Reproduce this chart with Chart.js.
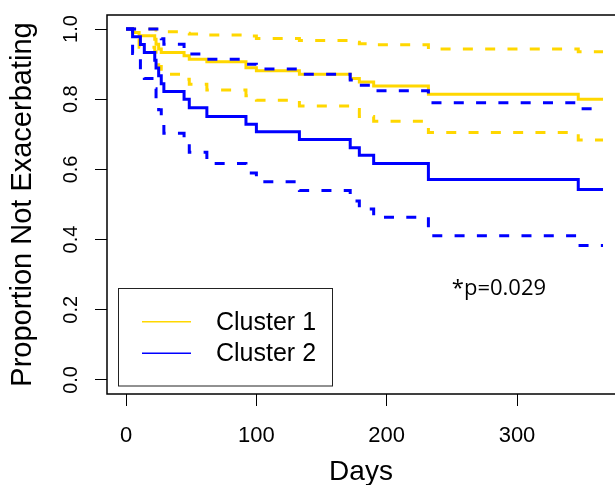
<!DOCTYPE html>
<html>
<head>
<meta charset="utf-8">
<script src="https://cdn.jsdelivr.net/npm/chart.js@4.4.0/dist/chart.umd.min.js"></script>
<style>
  html, body { margin: 0; padding: 0; background: #fff; overflow: hidden; }
  canvas { display: block; }
</style>
</head>
<body>
<canvas id="km" width="615" height="485"></canvas>
<script>
// Cluster 1 (gold) - KM estimate with confidence band
const cluster1Days  = [0, 5, 10, 22, 23, 25, 27, 44.5, 48.5, 62, 92, 100, 133, 172, 179, 190, 232, 347, 366]
const cluster1Surv  = [1, 0.99, 0.981, 0.971, 0.957, 0.943, 0.933, 0.924, 0.914, 0.907, 0.89, 0.881, 0.871, 0.859, 0.849, 0.838, 0.814, 0.80, 0.80]
const cluster1Upper = [1, 1, 1, 1, 0.997, 0.995, 0.992, 0.988, 0.986, 0.983, 0.98, 0.973, 0.967, 0.962, 0.958, 0.955, 0.943, 0.935, 0.935]
const cluster1Lower = [1, 0.972, 0.948, 0.935, 0.915, 0.893, 0.871, 0.857, 0.843, 0.826, 0.81, 0.797, 0.781, 0.771, 0.751, 0.737, 0.705, 0.684, 0.684]

// Cluster 2 (blue)
const cluster2Days  = [0, 5, 11, 14, 22, 23, 25, 27, 29, 44.5, 48.5, 62, 92, 100, 133, 172, 179, 190, 232, 347, 366]
const cluster2Surv  = [1, 0.978, 0.956, 0.933, 0.911, 0.889, 0.867, 0.844, 0.822, 0.80, 0.776, 0.751, 0.729, 0.707, 0.685, 0.662, 0.640, 0.617, 0.571, 0.543, 0.543]
const cluster2Upper = [1, 1, 1, 1, 1, 1, 0.985, 0.972, 0.957, 0.943, 0.929, 0.914, 0.90, 0.886, 0.871, 0.855, 0.84, 0.824, 0.79, 0.773, 0.773]
const cluster2Lower = [1, 0.93, 0.88, 0.859, 0.83, 0.80, 0.77, 0.735, 0.703, 0.675, 0.649, 0.617, 0.59, 0.565, 0.54, 0.51, 0.487, 0.464, 0.411, 0.383, 0.383]

const xTicks = [0, 100, 200, 300]
const yTicks = [0, 0.2, 0.4, 0.6, 0.8, 1.0]
const legendLabels = ['Cluster 1', 'Cluster 2']
const pValueText = '*p=0.029'
const pValuePos = { day: 250, value: 0.243 }

const GOLD = '#FFD700'
const BLUE = '#0000FF'
const FONT = "'Liberation Sans', Arial, sans-serif"

const toPoints = (days, vals) => days.map((d, i) => ({ x: d, y: vals[i] }))

const stepLine = (label, days, vals, color, dashed, order) => ({
    label: label,
    data: toPoints(days, vals),
    borderColor: color,
    backgroundColor: color,
    borderWidth: 3,
    borderDash: dashed ? [10, 12.3] : [],
    borderCapStyle: 'butt',
    borderJoinStyle: 'miter',
    stepped: 'before',
    pointRadius: 0,
    fill: false,
    order: order,
})

// box, legend and p-value text
const decorations = {
    id: 'decorations',
    afterDatasetsDraw(chart) {
        const { ctx, chartArea: a, scales } = chart
        ctx.save()
        ctx.strokeStyle = '#000'
        ctx.lineWidth = 1.5
        ctx.setLineDash([])
        ctx.strokeRect(a.left, a.top, a.right - a.left + 10, a.bottom - a.top)

        // legend
        ctx.lineWidth = 1
        ctx.strokeStyle = '#222'
        ctx.strokeRect(118.5, 288.5, 214, 97.5)
        const colors = [GOLD, BLUE]
        const rows = [321.7, 353.3]
        ctx.font = '25px ' + FONT
        ctx.textBaseline = 'middle'
        ctx.textAlign = 'left'
        legendLabels.forEach((lab, i) => {
            ctx.strokeStyle = colors[i]
            ctx.lineWidth = 1.5
            ctx.beginPath()
            ctx.moveTo(142, rows[i])
            ctx.lineTo(191, rows[i])
            ctx.stroke()
            ctx.fillStyle = '#000'
            ctx.fillText(lab, 216, rows[i] + 1)
        })

        // p value
        ctx.font = "22px 'Open Sans', sans-serif"
        ctx.textBaseline = 'alphabetic'
        ctx.fillStyle = '#000'
        ctx.fillText(pValueText, scales.x.getPixelForValue(pValuePos.day), scales.y.getPixelForValue(pValuePos.value))
        ctx.restore()
    },
}

const axisGrid = { drawOnChartArea: false, drawTicks: true, tickLength: 12, color: '#000', lineWidth: 1 }

new Chart(document.getElementById('km'), {
    type: 'line',
    data: {
        datasets: [
            stepLine('Cluster 2', cluster2Days, cluster2Surv, BLUE, false, 0),
            stepLine('Cluster 2 upper', cluster2Days, cluster2Upper, BLUE, true, 0),
            stepLine('Cluster 2 lower', cluster2Days, cluster2Lower, BLUE, true, 0),
            stepLine('Cluster 1', cluster1Days, cluster1Surv, GOLD, false, 1),
            stepLine('Cluster 1 upper', cluster1Days, cluster1Upper, GOLD, true, 1),
            stepLine('Cluster 1 lower', cluster1Days, cluster1Lower, GOLD, true, 1),
        ],
    },
    options: {
        responsive: false,
        animation: false,
        devicePixelRatio: 1,
        layout: { padding: { top: 15, left: 0, right: 0, bottom: 0 } },
        plugins: { legend: { display: false }, tooltip: { enabled: false } },
        scales: {
            x: {
                type: 'linear',
                min: -14.64,
                max: 375.2,
                afterBuildTicks: (s) => { s.ticks = xTicks.map((v) => ({ value: v })) },
                afterFit: (s) => { s.height = 91; s.paddingLeft = 0; s.paddingRight = 0 },
                grid: axisGrid,
                border: { display: false },
                ticks: {
                    color: '#000',
                    font: { family: FONT, size: 22 },
                    padding: 17,
                    maxRotation: 0,
                    autoSkip: false,
                    callback: (v) => String(v),
                },
                title: {
                    display: true,
                    text: 'Days',
                    color: '#000',
                    font: { family: FONT, size: 28, lineHeight: 0.9 },
                    padding: 0,
                },
            },
            y: {
                type: 'linear',
                min: -0.04,
                max: 1.04,
                afterBuildTicks: (s) => { s.ticks = yTicks.map((v) => ({ value: v })) },
                afterFit: (s) => { s.width = 107; s.paddingTop = 0; s.paddingBottom = 0 },
                grid: axisGrid,
                border: { display: false },
                ticks: {
                    color: '#000',
                    font: { family: FONT, size: 20 },
                    padding: 10,
                    minRotation: 90,
                    maxRotation: 90,
                    crossAlign: 'center',
                    callback: (v) => v.toFixed(1),
                },
                title: {
                    display: true,
                    text: 'Proportion Not Exacerbating',
                    color: '#000',
                    font: { family: FONT, size: 29 },
                    padding: { top: 6, bottom: 0 },
                },
            },
        },
    },
    plugins: [decorations],
})
</script>
</body>
</html>
